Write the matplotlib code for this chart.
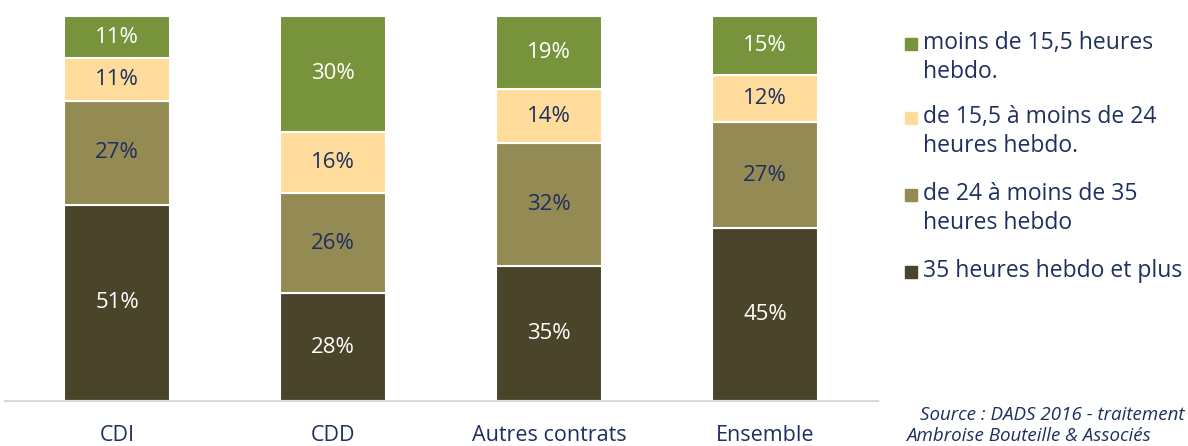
import matplotlib.pyplot as plt
from matplotlib.patches import Rectangle

plt.rcParams['font.family'] = ['Open Sans', 'DejaVu Sans']

categories = ["CDI", "CDD", "Autres contrats", "Ensemble"]
# stacked from bottom to top
plus_35 = [51, 28, 35, 45]
de_24_35 = [27, 26, 32, 27.4]
de_15_24 = [11, 16, 14, 12.2]
moins_15 = [11, 30, 19, 15.4]

series = [plus_35, de_24_35, de_15_24, moins_15]
labels = ["35 heures hebdo et plus",
          "de 24 à moins de 35\nheures hebdo",
          "de 15,5 à moins de 24\nheures hebdo.",
          "moins de 15,5 heures\nhebdo."]
colors = ["#4A452A", "#948A54", "#FFDC9B", "#77933C"]
text_colors = ["white", "#1F2F5F", "#1F2F5F", "white"]
navy = "#1F2F5F"

W, H = 1188, 446
fig = plt.figure(figsize=(W / 100, H / 100), dpi=100)
ax = fig.add_axes([5 / W, (H - 401) / H, (878 - 5) / W, (401 - 16) / H])

x = list(range(len(categories)))
bottom = [0] * len(categories)
for vals, col, tcol in zip(series, colors, text_colors):
    ax.bar(x, vals, bottom=bottom, width=0.49, color=col,
           edgecolor="white", linewidth=1.5)
    for i, v in enumerate(vals):
        ax.text(i, bottom[i] + v / 2, f"{round(v)}%", ha="center", va="center",
                color=tcol, fontsize=16)
    bottom = [b + v for b, v in zip(bottom, vals)]

ax.set_xlim(-0.519, 3.523)
ax.set_ylim(0, 100)
ax.set_xticks(x)
ax.set_xticklabels(categories, fontsize=15.5, color=navy)
ax.tick_params(axis="x", length=0, pad=17)
ax.set_yticks([])
for s in ["top", "right", "left"]:
    ax.spines[s].set_visible(False)
ax.spines["bottom"].set_color("#D9D9D9")
ax.spines["bottom"].set_linewidth(1.5)

# legend, drawn by hand so the square sits on the first line
leg_y = [44, 118, 195, 272]
for yy, lab, col in zip(leg_y, labels[::-1], colors[::-1]):
    fig.patches.append(Rectangle(((905) / W, (H - yy - 6) / H), 12 / W, 12 / H,
                                 transform=fig.transFigure, color=col))
    fig.text(923 / W, (H - yy + 13) / H, lab, ha="left", va="top",
             fontsize=16.5, color=navy, linespacing=1.27)

fig.text(1185 / W, (H - 415) / H, "Source : DADS 2016 - traitement",
         ha="right", va="center", fontsize=13.5, style="italic", color=navy)
fig.text(906 / W, (H - 436) / H, "Ambroise Bouteille & Associés",
         ha="left", va="center", fontsize=13.5, style="italic", color=navy)

fig.savefig("out.png", dpi=100)
